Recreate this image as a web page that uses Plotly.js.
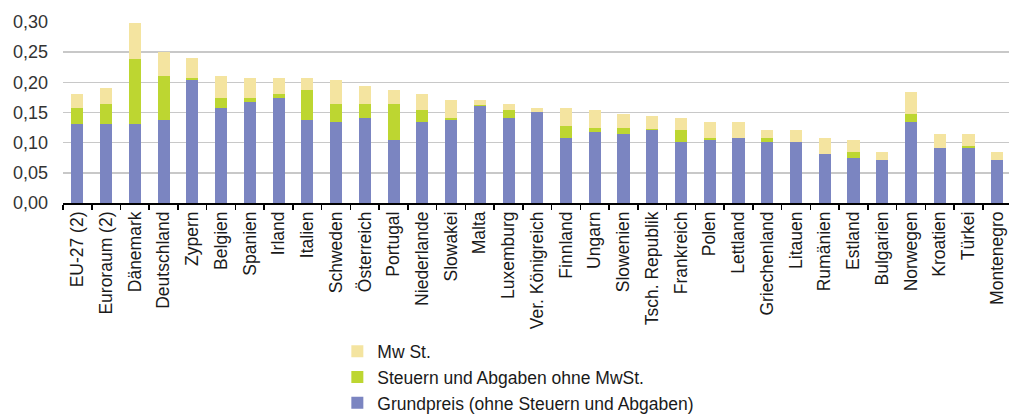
<!DOCTYPE html>
<html>
<head>
<meta charset="utf-8">
<script src="https://cdn.plot.ly/plotly-3.0.1.min.js"></script>
<style>html,body{margin:0;padding:0;background:#fff;}#chart{width:1009px;height:415px;}</style>
</head>
<body>
<div id="chart"></div>
<script>
const categories = ["EU-27 (2)","Euroraum (2)","Dänemark","Deutschland","Zypern","Belgien","Spanien","Irland","Italien","Schweden","Österreich","Portugal","Niederlande","Slowakei","Malta","Luxemburg","Ver. Königreich","Finnland","Ungarn","Slowenien","Tsch. Republik","Frankreich","Polen","Lettland","Griechenland","Litauen","Rumänien","Estland","Bulgarien","Norwegen","Kroatien","Türkei","Montenegro"];
const grundpreis = [0.131,0.131,0.131,0.138,0.204,0.158,0.168,0.174,0.138,0.134,0.141,0.104,0.134,0.138,0.161,0.141,0.151,0.108,0.118,0.114,0.121,0.101,0.104,0.108,0.101,0.101,0.081,0.074,0.071,0.134,0.091,0.091,0.071];
const steuern = [0.027,0.033,0.107,0.073,0.004,0.016,0.006,0.007,0.050,0.030,0.023,0.060,0.020,0.003,0.001,0.013,0.000,0.020,0.006,0.010,0.001,0.020,0.004,0.000,0.007,0.000,0.000,0.010,0.000,0.014,0.000,0.003,0.000];
const mwst = [0.022,0.027,0.061,0.040,0.033,0.037,0.034,0.027,0.020,0.040,0.030,0.024,0.027,0.030,0.009,0.010,0.007,0.030,0.030,0.024,0.022,0.020,0.026,0.026,0.013,0.020,0.027,0.020,0.013,0.036,0.023,0.020,0.013];
const seriesNames = ["Grundpreis (ohne Steuern und Abgaben)","Steuern und Abgaben ohne MwSt.","Mw St."];

const FONT = '"Liberation Sans", Arial, sans-serif';
const traces = [
  {name: seriesNames[0], y: grundpreis, color: '#7b85c1', grp: 'a'},
  {name: seriesNames[1], y: steuern, color: '#bdd631', grp: 'b'},
  {name: seriesNames[2], y: mwst, color: '#f4e4a0', grp: 'c'}
].map(s => ({
  type: 'bar', x: categories, y: s.y, name: s.name, legendgroup: s.grp,
  marker: {color: s.color, line: {width: 0}}, width: 0.42, hoverinfo: 'none'
}));

const layout = {
  width: 1009, height: 415,
  margin: {l: 63, r: 0, t: 22, b: 212, pad: 0, autoexpand: false},
  paper_bgcolor: '#fff', plot_bgcolor: '#fff',
  barmode: 'stack',
  separators: ',.',
  font: {family: FONT, size: 18, color: '#222'},
  showlegend: true,
  legend: {
    orientation: 'v', traceorder: 'reversed', tracegroupgap: 4,
    x: 0.29, xanchor: 'left', y: -0.72, yanchor: 'top',
    font: {family: FONT, size: 17.5, color: '#1a1a1a'},
    bgcolor: 'rgba(0,0,0,0)'
  },
  xaxis: {
    type: 'category', range: [-0.5, 32.41], fixedrange: true, automargin: false,
    tickangle: -90, tickson: 'boundaries', ticks: 'outside', ticklen: 5, tickwidth: 1.5, tickcolor: '#000',
    showline: true, linecolor: '#000', linewidth: 1.5, showgrid: false,
    tickfont: {family: FONT, size: 17.5, color: '#1a1a1a'}
  },
  yaxis: {
    range: [0, 0.30], dtick: 0.05, tickformat: '.2f', fixedrange: true, automargin: false,
    showgrid: true, gridcolor: '#c8c8c8', gridwidth: 1.5, zeroline: false, showline: false,
    ticks: '', ticklabelstandoff: 14,
    tickfont: {family: FONT, size: 18, color: '#333'}
  }
};

Plotly.newPlot('chart', traces, layout, {displayModeBar: false, staticPlot: true});
</script>
</body>
</html>
